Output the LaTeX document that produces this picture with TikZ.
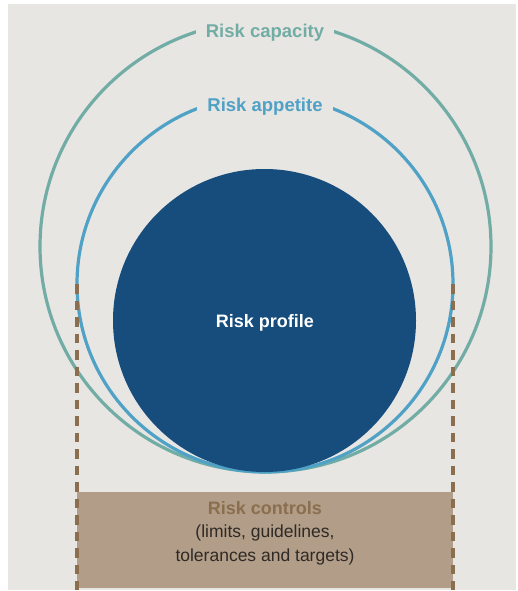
\documentclass[tikz,border=0pt]{standalone}
\usepackage{fontspec}
\setmainfont{Liberation Sans}
\definecolor{bg}{HTML}{E8E6E3}
\definecolor{capc}{HTML}{72ADA5}
\definecolor{appc}{HTML}{4FA1C6}
\definecolor{profc}{HTML}{174D7C}
\definecolor{boxc}{HTML}{B19D88}
\definecolor{brownc}{HTML}{8B6E4E}
\definecolor{txtc}{HTML}{2F2A26}
\begin{document}
\begin{tikzpicture}[x=1pt,y=-1pt,
  ring/.style={line width=3.2pt},
  lbl/.style={font=\bfseries\fontsize{18.5}{22}\selectfont, fill=bg, inner xsep=10pt, inner ysep=9pt},
  ctrl/.style={brownc, line width=3.4pt, dash pattern=on 9.5pt off 7pt}]
\useasboundingbox (0,0) rectangle (517,591);
\fill[white] (0,0) rectangle (517,591);
\fill[bg] (8,4) rectangle (516,590);
% risk controls box
\node[fill=boxc, minimum width=376pt, minimum height=96pt, inner sep=0pt, anchor=north west] (box) at (77,492) {};
\node[align=center, text=txtc, font=\fontsize{17.5}{23.5}\selectfont] (boxtxt) at (265,533)
  {{\color{brownc}\bfseries\fontsize{18}{23.5}\selectfont Risk controls}\\(limits, guidelines,\\tolerances and targets)};
% circles
\node[ring, draw=capc, circle, minimum size=451pt, inner sep=0pt] (cap) at (265.5,246.5) {};
\node[ring, draw=appc, circle, minimum size=376pt, inner sep=0pt] (app) at (265,284) {};
\node[fill=profc, circle, minimum size=303pt, inner sep=0pt] (prof) at (264.5,320.5) {};
\node[text=white, font=\bfseries\fontsize{18}{21}\selectfont] (proftxt) at (265,323) {Risk profile};
\node[lbl, text=capc] (captxt) at (265,33) {Risk capacity};
\node[lbl, text=appc] (apptxt) at (265,107) {Risk appetite};
% dashed guides
\coordinate (lt) at (77,284);
\coordinate (lb) at (77,590);
\coordinate (rt) at (453,284);
\coordinate (rb) at (453,590);
\draw[ctrl] (lt) -- (lb);
\draw[ctrl] (rt) -- (rb);
\end{tikzpicture}
\end{document}
